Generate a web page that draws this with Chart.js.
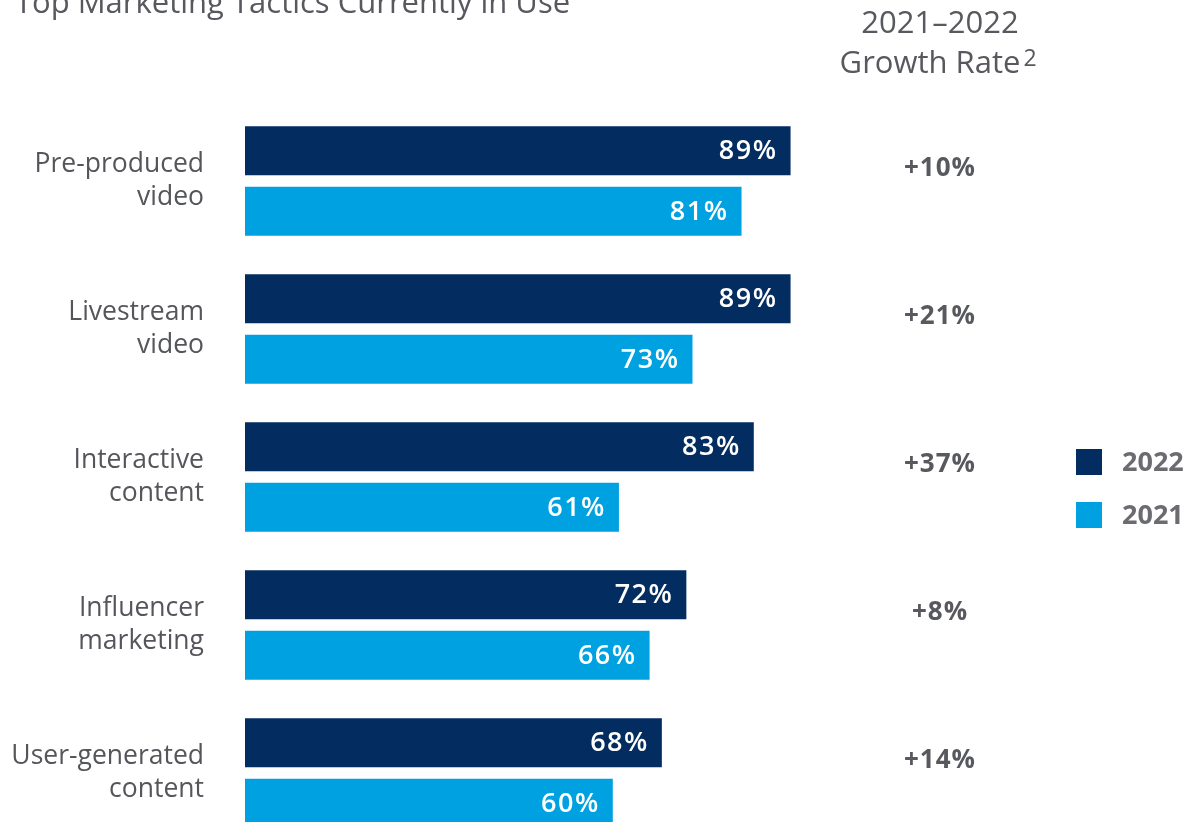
<!DOCTYPE html>
<html>
<head>
<meta charset="utf-8">
<script src="https://cdn.jsdelivr.net/npm/chart.js@4"></script>
<style>
  html, body { margin: 0; padding: 0; background: #fff; overflow: hidden; }
</style>
</head>
<body>
<canvas id="myChart" width="1186" height="847"></canvas>
<script>
// data
const labels = [
    ['Pre-produced', 'video'],
    ['Livestream', 'video'],
    ['Interactive', 'content'],
    ['Influencer', 'marketing'],
    ['User-generated', 'content'],
];
const values2022 = [89, 89, 83, 72, 68];
const values2021 = [81, 73, 61, 66, 60];
const growth = ['+10%', '+21%', '+37%', '+8%', '+14%'];

const textGray = '#58595e';

// draws bar labels, growth column, header, title and legend
const extras = {
    id: 'extras',
    afterDatasetsDraw(chart) {
        const ctx = chart.ctx;
        ctx.save();

        // values inside bars
        ctx.fillStyle = '#fff';
        ctx.font = '600 27px "Open Sans"';
        ctx.letterSpacing = '1.5px';
        ctx.textAlign = 'right';
        ctx.textBaseline = 'middle';
        chart.data.datasets.forEach((ds, i) => {
            chart.getDatasetMeta(i).data.forEach((bar, j) => {
                ctx.fillText(ds.data[j] + '%', bar.x - 13, bar.y + 1);
            });
        });

        // growth column
        const y = chart.scales.y;
        ctx.fillStyle = textGray;
        ctx.font = 'bold 26px "Open Sans"';
        ctx.letterSpacing = '1px';
        ctx.textAlign = 'center';
        growth.forEach((g, i) => {
            ctx.fillText(g, 940, y.getPixelForValue(i) - 12);
        });

        // header
        ctx.letterSpacing = '0px';
        ctx.font = '31px "Open Sans"';
        ctx.fillText('2021–2022', 940, 24);
        ctx.fillText('Growth Rate', 930, 64);
        const w = ctx.measureText('Growth Rate').width;
        ctx.font = '23px "Open Sans"';
        ctx.textAlign = 'left';
        ctx.fillText('2', 930 + w / 2 + 3, 59);

        // title (cut off at the top)
        ctx.font = '31px "Open Sans"';
        ctx.textBaseline = 'alphabetic';
        ctx.fillText('Top Marketing Tactics Currently in Use', 15, 13);

        // legend
        ctx.font = 'bold 27px "Open Sans"';
        ctx.textBaseline = 'middle';
        chart.data.datasets.forEach((ds, i) => {
            const ly = 449 + i * 53;
            ctx.fillStyle = ds.backgroundColor;
            ctx.fillRect(1076, ly, 26, 26);
            ctx.fillStyle = '#6b6c71';
            ctx.fillText(ds.label, 1122, ly + 14);
        });

        ctx.restore();
    }
};

const data = {
    labels: labels,
    datasets: [{
        label: '2022',
        backgroundColor: '#032d60',
        data: values2022,
    }, {
        label: '2021',
        backgroundColor: '#00a1e0',
        data: values2021,
    }]
};

const config = {
    type: 'bar',
    data: data,
    options: {
        indexAxis: 'y',
        responsive: false,
        animation: false,
        categoryPercentage: 0.818,
        barPercentage: 0.81,
        layout: { padding: { top: 107, right: 328, bottom: 0, left: 0 } },
        plugins: {
            legend: { display: false },
            tooltip: { enabled: false },
        },
        scales: {
            x: {
                display: false,
                min: 0,
                max: 100,
            },
            y: {
                grid: { display: false, drawTicks: false },
                border: { display: false },
                ticks: {
                    color: '#55565b',
                    font: { family: 'Open Sans', size: 26.5, lineHeight: 1.22 },
                    padding: 41,
                },
                afterFit(scale) {
                    scale.width = 245;
                    scale.paddingTop = 0;
                    scale.paddingBottom = 0;
                },
            }
        }
    },
    plugins: [extras]
};

const myChart = new Chart(document.getElementById('myChart'), config);
</script>
</body>
</html>
